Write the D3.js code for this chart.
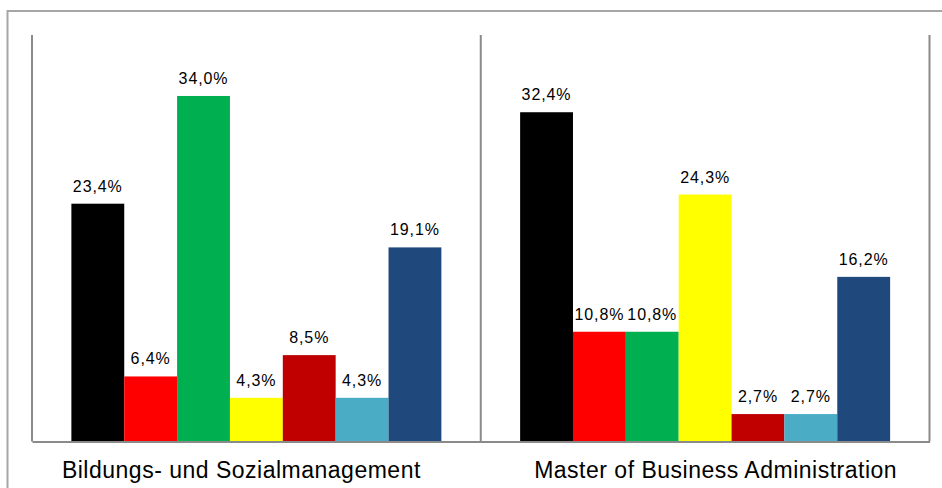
<!DOCTYPE html>
<html>
<head>
<meta charset="utf-8">
<script src="https://cdn.jsdelivr.net/npm/d3@7"></script>
<style>
  html, body { margin: 0; padding: 0; background: #fff; }
  svg { display: block; }
  text { font-family: "Liberation Sans", Arial, sans-serif; fill: #000; }
</style>
</head>
<body>
<svg id="chart" width="942" height="488"></svg>
<script>
// ---- data ----
const categories = ["Bildungs- und Sozialmanagement", "Master of Business Administration"];
const seriesNames = ["S1", "S2", "S3", "S4", "S5", "S6", "S7"];
const seriesColors = ["#000000", "#FF0000", "#00B050", "#FFFF00", "#C00000", "#4BACC6", "#1F497D"];
const valuesBildung = [23.4, 6.4, 34.0, 4.3, 8.5, 4.3, 19.1];
const valuesMBA = [32.4, 10.8, 10.8, 24.3, 2.7, 2.7, 16.2];
const yDomain = [0, 40];

const values = [valuesBildung, valuesMBA];
const svg = d3.select("#chart");

// outer border
svg.append("rect")
  .attr("x", 7.5).attr("y", 11)
  .attr("width", 960).attr("height", 500)
  .attr("fill", "none").attr("stroke", "#a6a6a6").attr("stroke-width", 2);

const plot = { left: 32, right: 929.5, top: 35, bottom: 441.5 };

const x0 = d3.scaleBand().domain(categories).range([plot.left, plot.right]).paddingInner(0).paddingOuter(0);
const x1 = d3.scaleBand().domain(seriesNames).range([0, x0.bandwidth()]).paddingInner(0).paddingOuter(0.745);
const y = d3.scaleLinear().domain(yDomain).range([plot.bottom, plot.top]);

const fmt = v => d3.format(".1f")(v).replace(".", ",") + "%";

const groups = svg.selectAll("g.cat").data(categories).enter().append("g")
  .attr("class", "cat")
  .attr("transform", d => `translate(${x0(d)},0)`);

groups.each(function(cat, ci) {
  const g = d3.select(this);
  const rows = seriesNames.map((s, i) => ({ s, i, v: values[ci][i] }));
  g.selectAll("rect").data(rows).enter().append("rect")
    .attr("x", d => x1(d.s))
    .attr("y", d => y(d.v))
    .attr("width", x1.bandwidth())
    .attr("height", d => y(0) - y(d.v))
    .attr("fill", d => seriesColors[d.i]);
  g.selectAll("text.val").data(rows).enter().append("text")
    .attr("class", "val")
    .attr("x", d => x1(d.s) + x1.bandwidth() / 2)
    .attr("y", d => y(d.v) - 12)
    .attr("text-anchor", "middle")
    .style("font-size", "16px")
    .style("letter-spacing", "0.9px")
    .text(d => fmt(d.v));
});

// axis frame lines
const lineColor = "#8a8a8a";
svg.append("line").attr("x1", plot.left).attr("x2", plot.left).attr("y1", plot.top).attr("y2", plot.bottom)
  .attr("stroke", lineColor).attr("stroke-width", 2);
svg.append("line").attr("x1", plot.right).attr("x2", plot.right).attr("y1", plot.top).attr("y2", plot.bottom)
  .attr("stroke", lineColor).attr("stroke-width", 2);
svg.append("line").attr("x1", x0(categories[1])).attr("x2", x0(categories[1])).attr("y1", plot.top).attr("y2", plot.bottom)
  .attr("stroke", lineColor).attr("stroke-width", 2);

const xAxis = d3.axisBottom(x0).tickSize(0).tickPadding(20);
const ax = svg.append("g").attr("transform", `translate(0,${plot.bottom})`).call(xAxis);
ax.select(".domain").attr("stroke", lineColor).attr("stroke-width", 2);
const labelShift = [-15, 10.5];
ax.selectAll(".tick text")
  .attr("dx", (d, i) => labelShift[i])
  .style("font-size", "23px")
  .style("letter-spacing", "0.5px")
  .style("font-family", "'Liberation Sans', Arial, sans-serif")
  .attr("fill", "#000");
</script>
</body>
</html>
